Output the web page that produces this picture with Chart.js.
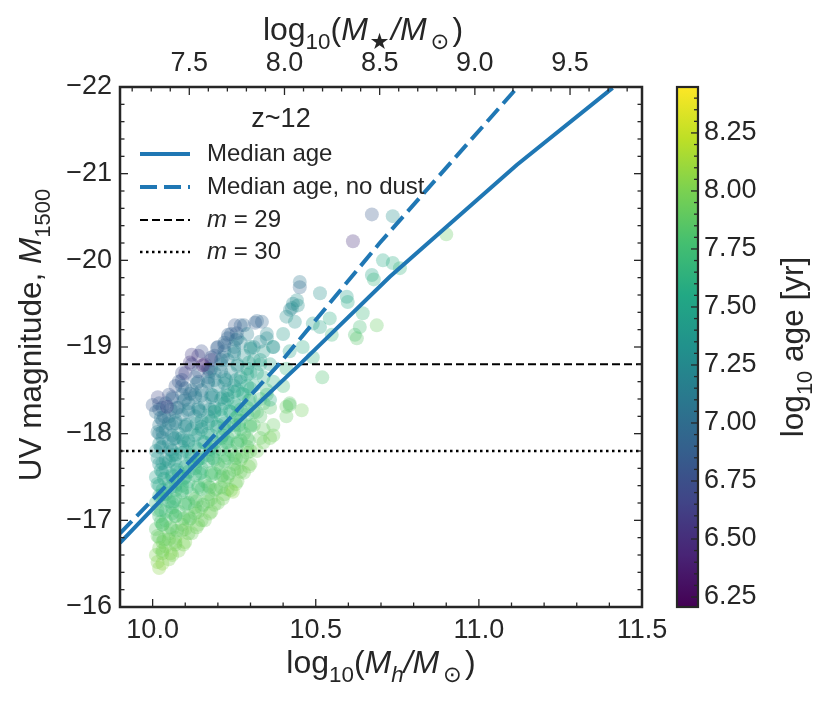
<!DOCTYPE html>
<html>
<head>
<meta charset="utf-8">
<script src="https://cdn.jsdelivr.net/npm/chart.js@4.4.1/dist/chart.umd.min.js"></script>
<style>
  html, body { margin: 0; padding: 0; background: #fff; }
  #wrap { position: relative; width: 831px; height: 708px; }
  #wrap canvas { position: absolute; left: 0; top: 0; }
</style>
</head>
<body>
<div id="wrap">
  <canvas id="main" width="831" height="708"></canvas>
  <canvas id="cbar" width="831" height="708"></canvas>
</div>
<script>
// ---- axis ranges and tick labels ----
const haloMin = 9.9, haloMax = 11.5;
const stellarMin = 7.136, stellarMax = 9.878;
const magTop = -22, magBottom = -16;
const ageMin = 6.207, ageMax = 8.448;

const haloTicks = [10.0, 10.5, 11.0, 11.5];
const stellarTicks = [7.5, 8.0, 8.5, 9.0, 9.5];
const magTicks = [-22, -21, -20, -19, -18, -17, -16];
const ageTicks = [6.25, 6.5, 6.75, 7.0, 7.25, 7.5, 7.75, 8.0, 8.25];

// ---- median relations ----
const medianHalo = [9.9, 10.17, 10.451, 10.727, 11.116, 11.41];
const medianMag = [-16.74, -17.8, -18.8, -19.81, -21.1, -21.99];
const noDustHalo = [9.9, 10.145, 10.387, 10.696, 11.119];
const noDustMag = [-16.85, -17.8, -18.8, -20.2, -22.0];

// ---- depth limits ----
const limitHalo = [9.9, 11.5];
const limit29Mag = [-18.8, -18.8];
const limit30Mag = [-17.8, -17.8];

// ---- galaxies: halo mass, UV magnitude, log age (read column by column) ----
const galaxyHalo = [
  10.02, 10.01, 10.03, 10.01, 10.02, 10.01, 10.03, 10.01, 10.02, 10.01, 10.03, 10.02, 10.01, 10.02,
  10.03, 10.03, 10.02, 10.03, 10.04, 10.03, 10.02, 10.03, 10.04, 10.03, 10.02, 10.03, 10.03,
  10.05, 10.04, 10.05, 10.04, 10.06, 10.04, 10.05, 10.04, 10.06, 10.05, 10.04, 10.05, 10.04, 10.05,
  10.06, 10.07, 10.06, 10.07, 10.06, 10.07, 10.06, 10.07, 10.06, 10.07, 10.06, 10.07, 10.06, 10.07,
  10.08, 10.07, 10.09, 10.08, 10.07, 10.09, 10.08, 10.07, 10.09, 10.08, 10.07, 10.08, 10.09, 10.08, 10.09,
  10.10, 10.10, 10.11, 10.10, 10.09, 10.10, 10.11, 10.10, 10.09, 10.10, 10.11, 10.10, 10.09, 10.10,
  10.12, 10.11, 10.13, 10.12, 10.11, 10.13, 10.12, 10.11, 10.12, 10.13, 10.11, 10.12, 10.13, 10.12, 10.14,
  10.14, 10.14, 10.13, 10.14, 10.15, 10.14, 10.13, 10.14, 10.15, 10.14, 10.13, 10.14, 10.17, 10.18,
  10.16, 10.15, 10.17, 10.16, 10.15, 10.17, 10.16, 10.15, 10.17, 10.16, 10.15, 10.17, 10.16, 10.15,
  10.18, 10.18, 10.17, 10.18, 10.19, 10.18, 10.17, 10.18, 10.19, 10.18, 10.17, 10.18, 10.19,
  10.20, 10.19, 10.21, 10.20, 10.19, 10.21, 10.20, 10.19, 10.21, 10.20, 10.19, 10.21, 10.20,
  10.22, 10.22, 10.21, 10.22, 10.23, 10.22, 10.21, 10.22, 10.23, 10.22, 10.21, 10.22, 10.23,
  10.24, 10.23, 10.25, 10.24, 10.23, 10.25, 10.24, 10.23, 10.25, 10.24, 10.23, 10.25, 10.24,
  10.26, 10.26, 10.25, 10.26, 10.27, 10.26, 10.25, 10.26, 10.27, 10.26, 10.25, 10.26, 10.27,
  10.28, 10.27, 10.29, 10.28, 10.27, 10.29, 10.28, 10.27, 10.29, 10.28, 10.27, 10.28,
  10.30, 10.30, 10.29, 10.30, 10.31, 10.30, 10.29, 10.30, 10.31, 10.30, 10.29,
  10.32, 10.33, 10.31, 10.32, 10.33, 10.31, 10.32, 10.33, 10.31, 10.32,
  10.34, 10.34, 10.33, 10.34, 10.35, 10.34, 10.33, 10.34, 10.35,
  10.36, 10.37, 10.36, 10.35, 10.37, 10.36, 10.37, 10.35,
  10.41, 10.42, 10.40, 10.41, 10.42, 10.40, 10.41, 10.43,
  // third, interleaved layer of the dense clump
  10.015, 10.02, 10.015, 10.025, 10.015, 10.02, 10.015, 10.025, 10.015, 10.02, 10.015, 10.025, 10.02,
  10.055, 10.05, 10.055, 10.06, 10.05, 10.055, 10.06, 10.05, 10.055, 10.06, 10.05, 10.055, 10.06,
  10.095, 10.09, 10.095, 10.1, 10.09, 10.095, 10.1, 10.09, 10.095, 10.1, 10.09, 10.095, 10.1, 10.09,
  10.135, 10.13, 10.135, 10.14, 10.13, 10.135, 10.14, 10.13, 10.135, 10.14, 10.13, 10.135, 10.14,
  10.175, 10.17, 10.175, 10.18, 10.17, 10.175, 10.18, 10.17, 10.175, 10.18, 10.17, 10.175, 10.18,
  10.215, 10.21, 10.215, 10.22, 10.21, 10.215, 10.22, 10.21, 10.215, 10.22, 10.21, 10.215, 10.22,
  10.255, 10.25, 10.255, 10.26, 10.25, 10.255, 10.26, 10.25, 10.255, 10.26, 10.25, 10.255,
  10.295, 10.29, 10.295, 10.3, 10.29, 10.295, 10.3, 10.29, 10.295, 10.3,
  // core of the clump, where the markers pile up
  10.03, 10.035, 10.03, 10.025, 10.03, 10.035, 10.03, 10.025, 10.03, 10.035,
  10.07, 10.075, 10.07, 10.065, 10.07, 10.075, 10.07, 10.065, 10.07, 10.075,
  10.11, 10.115, 10.11, 10.105, 10.11, 10.115, 10.11, 10.105, 10.11, 10.115,
  10.15, 10.155, 10.15, 10.145, 10.15, 10.155, 10.15, 10.145, 10.15,
  10.19, 10.195, 10.19, 10.185, 10.19, 10.195, 10.19, 10.185, 10.19,
  10.23, 10.235, 10.23, 10.225, 10.23, 10.235, 10.23, 10.225,
  10.27, 10.275, 10.27, 10.265, 10.27, 10.275,
  // scattered bright / massive ones
  10.672, 10.736, 10.614, 10.90, 10.706, 10.736, 10.758, 10.672, 10.678, 10.451,
  10.451, 10.513, 10.595, 10.598, 10.644, 10.687, 10.62, 10.626, 10.635, 10.442,
  10.421, 10.436, 10.513, 10.543, 10.549, 10.491, 10.46, 10.491, 10.369, 10.329,
  10.335, 10.314, 10.252, 10.258, 10.231, 10.52, 10.457, 10.41, 10.427, 10.445,
  10.154, 10.12, 10.114, 10.016, 10.044, 10.0, 10.36, 10.42, 10.197, 10.22,
  10.37, 10.246
];
const galaxyMag = [
  -16.45, -16.6, -16.75, -16.9, -17.05, -17.2, -17.35, -17.5, -17.65, -17.8, -17.95, -18.1, -18.25, -18.35,
  -16.5, -16.65, -16.8, -16.95, -17.1, -17.25, -17.4, -17.55, -17.7, -17.85, -18.0, -18.15, -18.3,
  -16.55, -16.7, -16.85, -17.0, -17.15, -17.3, -17.45, -17.6, -17.75, -17.9, -18.05, -18.2, -18.35, -18.45,
  -16.6, -16.75, -16.9, -17.05, -17.2, -17.35, -17.5, -17.65, -17.8, -17.95, -18.1, -18.25, -18.4, -18.55,
  -16.65, -16.8, -16.95, -17.1, -17.25, -17.4, -17.55, -17.7, -17.85, -18.0, -18.15, -18.3, -18.45, -18.6, -18.7,
  -16.75, -16.9, -17.05, -17.2, -17.35, -17.5, -17.65, -17.8, -17.95, -18.1, -18.25, -18.4, -18.55, -18.7,
  -16.85, -17.0, -17.15, -17.3, -17.45, -17.6, -17.75, -17.9, -18.05, -18.2, -18.35, -18.5, -18.65, -18.8, -18.9,
  -16.95, -17.1, -17.25, -17.4, -17.55, -17.7, -17.85, -18.0, -18.15, -18.3, -18.45, -18.6, -18.75, -18.85,
  -17.0, -17.15, -17.3, -17.45, -17.6, -17.75, -17.9, -18.05, -18.2, -18.35, -18.5, -18.65, -18.8, -18.95,
  -17.1, -17.25, -17.4, -17.55, -17.7, -17.85, -18.0, -18.15, -18.3, -18.45, -18.6, -18.75, -18.9,
  -17.2, -17.35, -17.5, -17.65, -17.8, -17.95, -18.1, -18.25, -18.4, -18.55, -18.7, -18.85, -19.0,
  -17.3, -17.45, -17.6, -17.75, -17.9, -18.05, -18.2, -18.35, -18.5, -18.65, -18.8, -18.95, -19.1,
  -17.35, -17.5, -17.65, -17.8, -17.95, -18.1, -18.25, -18.4, -18.55, -18.7, -18.85, -19.0, -19.15,
  -17.45, -17.6, -17.75, -17.9, -18.05, -18.2, -18.35, -18.5, -18.65, -18.8, -18.95, -19.1, -19.25,
  -17.55, -17.7, -17.85, -18.0, -18.15, -18.3, -18.45, -18.6, -18.75, -18.9, -19.05, -19.25,
  -17.65, -17.8, -17.95, -18.1, -18.25, -18.4, -18.55, -18.7, -18.85, -19.0, -19.15,
  -17.8, -17.95, -18.1, -18.25, -18.4, -18.55, -18.7, -18.85, -19.0, -19.3,
  -17.9, -18.05, -18.2, -18.35, -18.5, -18.65, -18.8, -18.95, -19.1,
  -17.95, -18.1, -18.3, -18.45, -18.6, -18.8, -19.0, -19.15,
  -18.2, -18.35, -18.55, -18.75, -18.95, -19.15, -19.35, -19.5,
  // third, interleaved layer of the dense clump
  -16.52, -16.68, -16.82, -16.98, -17.12, -17.28, -17.42, -17.58, -17.72, -17.88, -18.02, -18.18, -18.28,
  -16.62, -16.78, -16.92, -17.08, -17.22, -17.38, -17.52, -17.68, -17.82, -17.98, -18.12, -18.28, -18.42,
  -16.72, -16.88, -17.02, -17.18, -17.32, -17.48, -17.62, -17.78, -17.92, -18.08, -18.22, -18.38, -18.52, -18.62,
  -16.92, -17.08, -17.22, -17.38, -17.52, -17.68, -17.82, -17.98, -18.12, -18.28, -18.42, -18.58, -18.72,
  -17.08, -17.22, -17.38, -17.52, -17.68, -17.82, -17.98, -18.12, -18.28, -18.42, -18.58, -18.72, -18.88,
  -17.25, -17.38, -17.52, -17.68, -17.82, -17.98, -18.12, -18.28, -18.42, -18.58, -18.72, -18.88, -19.02,
  -17.42, -17.58, -17.72, -17.88, -18.02, -18.18, -18.32, -18.48, -18.62, -18.78, -18.92, -19.08,
  -17.62, -17.78, -17.92, -18.08, -18.22, -18.38, -18.52, -18.68, -18.82, -18.98,
  // core of the clump, where the markers pile up
  -16.62, -16.78, -16.95, -17.12, -17.3, -17.48, -17.66, -17.84, -18.02, -18.2,
  -16.72, -16.88, -17.05, -17.22, -17.4, -17.58, -17.76, -17.94, -18.12, -18.3,
  -16.85, -17.02, -17.2, -17.38, -17.56, -17.74, -17.92, -18.1, -18.28, -18.46,
  -17.0, -17.18, -17.36, -17.54, -17.72, -17.9, -18.08, -18.26, -18.44,
  -17.18, -17.36, -17.54, -17.72, -17.9, -18.08, -18.26, -18.44, -18.62,
  -17.36, -17.54, -17.72, -17.9, -18.08, -18.26, -18.44, -18.62,
  -17.56, -17.74, -17.92, -18.1, -18.28, -18.46,
  // scattered bright / massive ones
  -20.53, -20.51, -20.22, -20.30, -20.0, -19.97, -19.91, -19.83, -19.78, -19.69,
  -19.75, -19.62, -19.58, -19.52, -19.39, -19.25, -19.14, -19.10, -19.23, -19.54,
  -19.43, -19.29, -19.23, -19.33, -19.14, -19.27, -19.0, -18.88, -19.0, -19.06,
  -19.29, -19.28, -19.25, -19.16, -19.14, -18.65, -18.27, -18.31, -19.45, -19.48,
  -18.79, -18.91, -18.82, -18.42, -18.31, -18.33, -18.39, -18.33, -18.99, -19.05,
  -17.98, -17.33
];
const galaxyAge = [
  8.05, 8.0, 7.95, 7.85, 7.75, 7.65, 7.55, 7.45, 7.35, 7.3, 7.2, 7.1, 7.0, 6.9,
  8.05, 7.95, 7.9, 7.8, 7.7, 7.6, 7.5, 7.4, 7.3, 7.25, 7.15, 7.05, 6.9,
  8.0, 7.95, 7.9, 7.8, 7.7, 7.6, 7.5, 7.4, 7.3, 7.25, 7.15, 7.05, 6.95, 6.8,
  8.0, 7.95, 7.85, 7.8, 7.7, 7.6, 7.5, 7.4, 7.3, 7.25, 7.15, 7.05, 6.95, 6.8,
  8.0, 7.95, 7.9, 7.8, 7.75, 7.65, 7.55, 7.45, 7.35, 7.3, 7.2, 7.1, 7.0, 6.85, 6.75,
  8.0, 7.95, 7.85, 7.8, 7.7, 7.6, 7.5, 7.4, 7.35, 7.25, 7.15, 7.05, 6.95, 6.6,
  7.95, 7.9, 7.85, 7.8, 7.7, 7.6, 7.5, 7.45, 7.35, 7.25, 7.15, 7.05, 6.9, 6.7, 6.55,
  7.95, 7.9, 7.85, 7.75, 7.7, 7.6, 7.5, 7.4, 7.3, 7.2, 7.1, 7.0, 6.55, 6.45,
  7.95, 7.9, 7.85, 7.75, 7.7, 7.6, 7.5, 7.4, 7.3, 7.2, 7.1, 6.95, 6.6, 6.75,
  7.95, 7.9, 7.85, 7.8, 7.7, 7.6, 7.5, 7.4, 7.3, 7.2, 7.1, 7.0, 6.85,
  7.95, 7.9, 7.85, 7.8, 7.7, 7.6, 7.5, 7.45, 7.35, 7.25, 7.15, 7.0, 6.9,
  7.95, 7.9, 7.85, 7.8, 7.7, 7.65, 7.55, 7.45, 7.35, 7.25, 7.15, 7.05, 6.95,
  7.95, 7.9, 7.85, 7.8, 7.75, 7.65, 7.55, 7.45, 7.35, 7.25, 7.2, 7.1, 6.95,
  7.95, 7.9, 7.85, 7.8, 7.75, 7.65, 7.55, 7.5, 7.4, 7.3, 7.2, 7.1, 6.95,
  7.95, 7.9, 7.85, 7.8, 7.75, 7.65, 7.55, 7.45, 7.4, 7.3, 7.2, 6.95,
  7.95, 7.9, 7.85, 7.8, 7.75, 7.65, 7.55, 7.5, 7.4, 7.3, 7.15,
  7.95, 7.9, 7.85, 7.8, 7.7, 7.6, 7.5, 7.4, 7.3, 6.95,
  7.95, 7.9, 7.85, 7.8, 7.7, 7.6, 7.5, 7.4, 7.3,
  7.95, 7.9, 7.85, 7.75, 7.65, 7.5, 7.35, 7.2,
  7.9, 7.85, 7.75, 7.65, 7.5, 7.4, 7.3, 7.25,
  // third, interleaved layer of the dense clump
  8.02, 7.97, 7.9, 7.8, 7.72, 7.62, 7.52, 7.42, 7.33, 7.27, 7.17, 7.07, 6.95,
  8.0, 7.95, 7.87, 7.8, 7.7, 7.6, 7.5, 7.4, 7.32, 7.25, 7.15, 7.05, 6.9,
  7.98, 7.93, 7.87, 7.8, 7.72, 7.62, 7.52, 7.43, 7.35, 7.27, 7.17, 7.07, 6.97, 6.8,
  7.95, 7.9, 7.85, 7.78, 7.7, 7.6, 7.52, 7.43, 7.33, 7.23, 7.13, 7.03, 6.85,
  7.95, 7.9, 7.85, 7.78, 7.7, 7.6, 7.5, 7.42, 7.32, 7.22, 7.12, 7.02, 6.8,
  7.95, 7.9, 7.85, 7.8, 7.72, 7.63, 7.53, 7.45, 7.35, 7.25, 7.15, 7.05, 6.92,
  7.95, 7.9, 7.85, 7.8, 7.75, 7.67, 7.57, 7.48, 7.38, 7.28, 7.2, 7.1,
  7.95, 7.9, 7.85, 7.8, 7.75, 7.67, 7.57, 7.5, 7.42, 7.32,
  // core of the clump, where the markers pile up
  7.97, 7.9, 7.82, 7.72, 7.62, 7.5, 7.38, 7.28, 7.17, 7.05,
  7.95, 7.88, 7.8, 7.7, 7.6, 7.48, 7.37, 7.27, 7.16, 7.03,
  7.93, 7.86, 7.78, 7.68, 7.58, 7.48, 7.38, 7.28, 7.17, 7.05,
  7.92, 7.85, 7.77, 7.68, 7.58, 7.48, 7.38, 7.27, 7.15,
  7.92, 7.86, 7.79, 7.7, 7.6, 7.5, 7.4, 7.3, 7.18,
  7.92, 7.86, 7.8, 7.72, 7.62, 7.52, 7.42, 7.3,
  7.92, 7.87, 7.8, 7.72, 7.62, 7.52,
  // scattered bright / massive ones
  6.85, 7.3, 6.5, 7.9, 7.55, 7.6, 7.65, 7.5, 7.65, 6.95,
  7.1, 7.3, 7.45, 7.55, 7.7, 7.9, 7.8, 7.85, 7.75, 7.3,
  7.2, 7.35, 7.5, 7.6, 7.7, 7.45, 7.6, 7.65, 7.3, 7.2,
  6.95, 6.9, 6.85, 6.9, 6.9, 7.8, 7.95, 7.9, 7.25, 7.3,
  6.35, 6.6, 6.55, 6.7, 6.6, 6.85, 7.6, 7.85, 6.9, 6.95,
  7.95, 8.05
];

// ---- styling ----
const FONT = '"Liberation Sans", Arial, "DejaVu Sans", sans-serif';
const INK = '#262626';
const C0 = '#1f77b4';
const viridisStops = ['#440154', '#482475', '#414487', '#355f8d', '#2a788e', '#21918c',
                      '#22a884', '#44bf70', '#7ad151', '#bddf26', '#fde725'];

Chart.defaults.font.family = FONT;
Chart.defaults.color = INK;

function hexToRgb(h) {
  return [parseInt(h.slice(1, 3), 16), parseInt(h.slice(3, 5), 16), parseInt(h.slice(5, 7), 16)];
}

function viridis(t) {
  t = Math.max(0, Math.min(1, t));
  const pos = t * (viridisStops.length - 1);
  const i = Math.min(Math.floor(pos), viridisStops.length - 2);
  const f = pos - i;
  const a = hexToRgb(viridisStops[i]), b = hexToRgb(viridisStops[i + 1]);
  return a.map((v, k) => Math.round(v + (b[k] - v) * f));
}

function minorRange(from, to, step, majors) {
  const out = [];
  for (let v = from; v <= to + 1e-9; v += step) {
    const r = +v.toFixed(4);
    if (!majors.some(m => Math.abs(m - r) < 1e-6)) out.push(r);
  }
  return out;
}

const haloMinor = minorRange(9.9, 11.5, 0.1, haloTicks);
const stellarMinor = minorRange(7.2, 9.8, 0.1, stellarTicks);
const magMinor = minorRange(-22, -16, 0.2, magTicks);
const ageMinor = minorRange(6.25, 8.4, 0.05, ageTicks);

const nGal = Math.min(galaxyHalo.length, galaxyMag.length, galaxyAge.length);
if (galaxyHalo.length !== galaxyMag.length || galaxyMag.length !== galaxyAge.length) {
  console.warn('galaxy arrays differ in length', galaxyHalo.length, galaxyMag.length, galaxyAge.length);
}
const galaxyPoints = [];
const galaxyColors = [];
for (let i = 0; i < nGal; i++) {
  galaxyPoints.push({ x: galaxyHalo[i], y: galaxyMag[i] });
  const [r, g, b] = viridis((galaxyAge[i] - ageMin) / (ageMax - ageMin));
  galaxyColors.push(`rgba(${r},${g},${b},0.3)`);
}

const toXY = (xs, ys) => xs.map((x, i) => ({ x: x, y: ys[i] }));
const minus = v => String(v).replace('-', '\u2212');

// ---- text with sub-scripts / italics ----
function runFont(r, size) {
  const s = r.sub ? size * 0.7 : size;
  return (r.it ? 'italic ' : '') + s.toFixed(1) + 'px ' + FONT;
}
function richWidth(ctx, runs, size) {
  let w = 0;
  runs.forEach(r => { ctx.font = runFont(r, size); w += ctx.measureText(r.t).width + (r.gap || 0) * size; });
  return w;
}
function drawRich(ctx, runs, x, y, size, align, baseline) {
  let cx = align === 'center' ? x - richWidth(ctx, runs, size) / 2 : x;
  ctx.textAlign = 'left';
  ctx.textBaseline = baseline || 'alphabetic';
  runs.forEach(r => {
    ctx.font = runFont(r, size);
    ctx.fillText(r.t, cx, y + (r.sub ? size * 0.27 : 0));
    cx += ctx.measureText(r.t).width + (r.gap || 0) * size;
  });
}

const bottomTitle = [{ t: 'log' }, { t: '10', sub: 1 }, { t: '(' }, { t: 'M', it: 1 }, { t: 'h', it: 1, sub: 1 },
  { t: '/', it: 1 }, { t: 'M', it: 1, gap: 0.12 }, { t: '\u2299', sub: 1, gap: 0.1 }, { t: ')' }];
const topTitle = [{ t: 'log' }, { t: '10', sub: 1 }, { t: '(' }, { t: 'M', it: 1, gap: 0.05 }, { t: '\u2605', sub: 1, gap: 0.05 },
  { t: '/', it: 1 }, { t: 'M', it: 1, gap: 0.12 }, { t: '\u2299', sub: 1, gap: 0.1 }, { t: ')' }];
const leftTitle = [{ t: 'UV magnitude, ' }, { t: 'M', it: 1 }, { t: '1500', sub: 1 }];
const cbarTitle = [{ t: 'log' }, { t: '10', sub: 1 }, { t: ' age [yr]' }];

const legendEntries = [
  { runs: [{ t: 'Median age' }], color: C0, width: 4, dash: [] },
  { runs: [{ t: 'Median age, no dust' }], color: C0, width: 4, dash: [17, 7] },
  { runs: [{ t: 'm', it: 1 }, { t: ' = 29' }], color: '#000', width: 2, dash: [8, 4] },
  { runs: [{ t: 'm', it: 1 }, { t: ' = 30' }], color: '#000', width: 2.5, dash: [2.5, 3.5] }
];

function tickLine(ctx, x1, y1, x2, y2) {
  ctx.beginPath(); ctx.moveTo(x1, y1); ctx.lineTo(x2, y2); ctx.stroke();
}

// frame, inward ticks, titles and legend of the main panel
const panelDecor = {
  id: 'panelDecor',
  afterDatasetsDraw(chart) {
    const ctx = chart.ctx;
    const a = chart.chartArea;
    const sx = chart.scales.x, sx2 = chart.scales.x2, sy = chart.scales.y;
    ctx.save();
    ctx.strokeStyle = INK;
    ctx.fillStyle = INK;

    ctx.lineWidth = 1.3;
    const maj = 8, mnr = 4.5;
    haloTicks.concat(haloMinor).forEach((v, i) => {
      const px = sx.getPixelForValue(v);
      if (px < a.left - 1 || px > a.right + 1) return;
      tickLine(ctx, px, a.bottom, px, a.bottom - (i < haloTicks.length ? maj : mnr));
    });
    stellarTicks.concat(stellarMinor).forEach((v, i) => {
      const px = sx2.getPixelForValue(v);
      if (px < a.left - 1 || px > a.right + 1) return;
      tickLine(ctx, px, a.top, px, a.top + (i < stellarTicks.length ? maj : mnr));
    });
    magTicks.concat(magMinor).forEach((v, i) => {
      const py = sy.getPixelForValue(v);
      const len = i < magTicks.length ? maj : mnr;
      tickLine(ctx, a.left, py, a.left + len, py);
      tickLine(ctx, a.right, py, a.right - len, py);
    });

    ctx.lineWidth = 2.5;
    ctx.strokeRect(a.left, a.top, a.right - a.left, a.bottom - a.top);

    // axis titles
    drawRich(ctx, bottomTitle, (a.left + a.right) / 2, 673, 32, 'center');
    drawRich(ctx, topTitle, 363, 40, 32, 'center');
    ctx.save();
    ctx.translate(41, 335);
    ctx.rotate(-Math.PI / 2);
    drawRich(ctx, leftTitle, 0, 0, 31.5, 'center');
    ctx.restore();

    // legend
    drawRich(ctx, [{ t: 'z~12' }], 281, 120, 27, 'center', 'middle');
    const rowY = [154, 187, 220, 252];
    legendEntries.forEach((e, i) => {
      ctx.save();
      ctx.strokeStyle = e.color;
      ctx.lineWidth = e.width;
      ctx.setLineDash(e.dash);
      tickLine(ctx, 140, rowY[i], 190, rowY[i]);
      ctx.restore();
      drawRich(ctx, e.runs, 207, rowY[i], 24, 'left', 'middle');
    });
    ctx.restore();
  }
};

new Chart(document.getElementById('main'), {
  type: 'scatter',
  data: {
    datasets: [
      { label: 'Median age', data: toXY(medianHalo, medianMag), showLine: true,
        borderColor: C0, borderWidth: 4, pointRadius: 0, order: 0 },
      { label: 'Median age, no dust', data: toXY(noDustHalo, noDustMag), showLine: true,
        borderColor: C0, borderWidth: 4, borderDash: [17, 7], pointRadius: 0, order: 1 },
      { label: 'm = 29', data: toXY(limitHalo, limit29Mag), showLine: true,
        borderColor: '#000', borderWidth: 2, borderDash: [8, 4], pointRadius: 0, order: 2 },
      { label: 'm = 30', data: toXY(limitHalo, limit30Mag), showLine: true,
        borderColor: '#000', borderWidth: 2.5, borderDash: [2.5, 3.5], pointRadius: 0, order: 3 },
      { label: 'galaxies', data: galaxyPoints, backgroundColor: galaxyColors,
        borderWidth: 0, pointRadius: 7, pointHoverRadius: 7, order: 10 }
    ]
  },
  options: {
    responsive: false,
    animation: false,
    events: [],
    layout: { padding: { left: 0, right: 189, top: 0, bottom: 0 } },
    plugins: { legend: { display: false }, tooltip: { enabled: false } },
    scales: {
      x: {
        type: 'linear', position: 'bottom', min: haloMin, max: haloMax,
        grid: { display: false, drawTicks: false }, border: { display: false },
        afterBuildTicks: s => { s.ticks = haloTicks.map(v => ({ value: v })); },
        afterFit: s => { s.height = 101; },
        ticks: { autoSkip: false, maxRotation: 0, padding: 7, font: { size: 27 },
                 callback: v => v.toFixed(1) }
      },
      x2: {
        type: 'linear', axis: 'x', position: 'top', min: stellarMin, max: stellarMax,
        grid: { display: false, drawTicks: false }, border: { display: false },
        afterBuildTicks: s => { s.ticks = stellarTicks.map(v => ({ value: v })); },
        afterFit: s => { s.height = 87; },
        ticks: { autoSkip: false, maxRotation: 0, padding: 7, font: { size: 27 },
                 callback: v => v.toFixed(1) }
      },
      y: {
        type: 'linear', position: 'left', min: magTop, max: magBottom, reverse: true,
        grid: { display: false, drawTicks: false }, border: { display: false },
        afterBuildTicks: s => { s.ticks = magTicks.map(v => ({ value: v })); },
        afterFit: s => { s.width = 120; },
        ticks: { autoSkip: false, padding: 8, font: { size: 27 }, callback: v => minus(v) }
      }
    }
  },
  plugins: [panelDecor]
});

// ---- colour bar ----
const cbarDecor = {
  id: 'cbarDecor',
  afterDatasetsDraw(chart) {
    const ctx = chart.ctx;
    const a = chart.chartArea;
    const sy = chart.scales.y;
    ctx.save();
    ctx.strokeStyle = INK;
    ctx.fillStyle = INK;
    ctx.lineWidth = 1.3;
    ageTicks.concat(ageMinor).forEach((v, i) => {
      const py = sy.getPixelForValue(v);
      tickLine(ctx, a.right, py, a.right - (i < ageTicks.length ? 7 : 4), py);
    });
    ctx.lineWidth = 2.2;
    ctx.strokeRect(a.left, a.top, a.right - a.left, a.bottom - a.top);
    ctx.translate(803, 347);
    ctx.rotate(-Math.PI / 2);
    drawRich(ctx, cbarTitle, 0, 0, 31.5, 'center');
    ctx.restore();
  }
};

new Chart(document.getElementById('cbar'), {
  type: 'bar',
  data: {
    labels: ['age'],
    datasets: [{
      data: [[ageMin, ageMax]],
      barPercentage: 1, categoryPercentage: 1, borderWidth: 0,
      backgroundColor: c => {
        const chart = c.chart;
        if (!chart.chartArea) return viridisStops[5];
        const sy = chart.scales.y;
        const g = chart.ctx.createLinearGradient(0, sy.getPixelForValue(ageMin), 0, sy.getPixelForValue(ageMax));
        viridisStops.forEach((col, k) => g.addColorStop(k / (viridisStops.length - 1), col));
        return g;
      }
    }]
  },
  options: {
    responsive: false,
    animation: false,
    events: [],
    layout: { padding: { left: 677, right: 73, top: 87, bottom: 101 } },
    plugins: { legend: { display: false }, tooltip: { enabled: false } },
    scales: {
      x: { display: false },
      y: {
        position: 'right', min: ageMin, max: ageMax,
        grid: { display: false, drawTicks: false }, border: { display: false },
        afterBuildTicks: s => { s.ticks = ageTicks.map(v => ({ value: v })); },
        afterFit: s => { s.width = 60; },
        ticks: { autoSkip: false, padding: 6, font: { size: 27 }, callback: v => v.toFixed(2) }
      }
    }
  },
  plugins: [cbarDecor]
});
</script>
</body>
</html>
